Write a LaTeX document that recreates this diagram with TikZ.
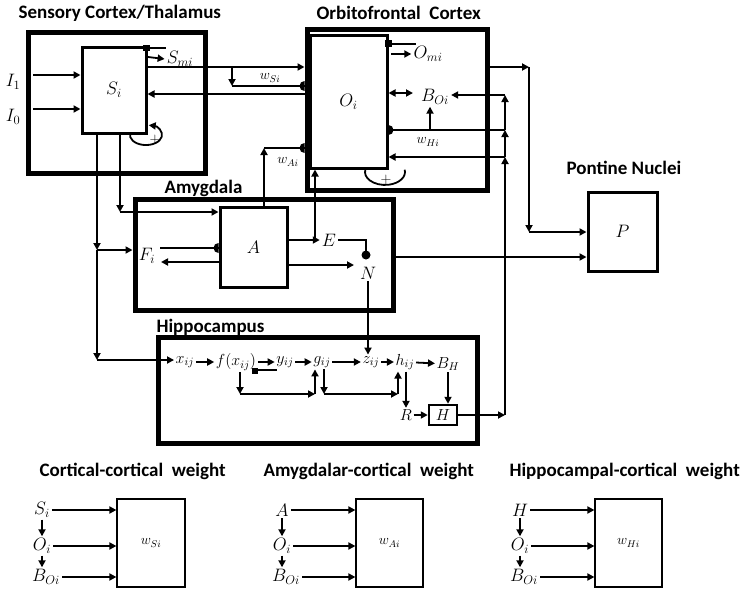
\RequirePackage{fix-cm}
\documentclass[tikz,border=0pt]{standalone}
\usepackage{amsmath, amssymb}
\usepackage{fontspec}
\setsansfont{Carlito}
\usetikzlibrary{arrows.meta}

\newcommand{\synleft}[1]{\fill (#1) ++(0,5) arc[start angle=90, end angle=270, radius=5] -- cycle;}
\newcommand{\synright}[1]{\fill (#1) ++(0,5) arc[start angle=90, end angle=-90, radius=5] -- cycle;}

\begin{document}
\begin{tikzpicture}[x=1pt, y=-1pt,
    region/.style={draw, line width=5pt, inner sep=0pt},
    unit/.style={draw, line width=3pt, fill=white, inner sep=0pt},
    wbox/.style={draw, line width=1.2pt, inner sep=0pt},
    title/.style={anchor=west, font=\sffamily\bfseries\fontsize{19}{21}\selectfont},
    lab/.style={font=\fontsize{18}{20}\selectfont, inner sep=2pt},
    hlab/.style={font=\fontsize{16}{18}\selectfont, inner sep=1.5pt},
    wlab/.style={font=\fontsize{14}{16}\selectfont, inner sep=1pt},
    wire/.style={line width=1.8pt},
    arr/.style={wire, -{Triangle[length=7pt, width=7pt]}},
    darr/.style={wire, {Triangle[length=7pt, width=7pt]}-{Triangle[length=7pt, width=7pt]}}]
\useasboundingbox (0,0) rectangle (742,589);

% region titles
\node[title] at (15,13) {Sensory Cortex/Thalamus};
\node[title] at (313,13) {Orbitofrontal\ \ Cortex};
\node[title] at (563,168) {Pontine Nuclei};
\node[title] at (161,188) {Amygdala};
\node[title] at (153,327) {Hippocampus};

% regions and units
\node[region, minimum width=177pt, minimum height=141pt] (stc) at (116.5,102.5) {};
\node[region, minimum width=180pt, minimum height=161pt] (ofc) at (397,109.5) {};
\node[region, minimum width=258pt, minimum height=111pt] (amy) at (264,254.5) {};
\node[region, minimum width=319pt, minimum height=106pt] (hip) at (317.5,390) {};
\node[unit, minimum width=64pt, minimum height=86pt, lab] (Si) at (114,90) {$S_i$};
\node[unit, minimum width=77pt, minimum height=133pt, lab] (Oi) at (348.5,101.5) {$O_i$};
\node[unit, minimum width=67pt, minimum height=80pt, lab] (A) at (253.5,247) {$A$};
\node[unit, minimum width=69pt, minimum height=79pt, lab] (P) at (622.5,231.5) {$P$};

% sensory cortex
\node[lab] (I1) at (13,82) {$I_1$};
\node[lab] (I0) at (13,117) {$I_0$};
\coordinate (i1) at (33,75);
\coordinate (i0) at (33,109);
\draw[arr] (i1) -- (i1 -| Si.west);
\draw[arr] (i0) -- (i0 -| Si.west);
\node[lab] (Smi) at (180,59) {$S_{mi}$};
\fill (143,45) rectangle (150,51);
\draw[wire] (146,48) -- (166,48);
\draw[arr] (148,57) -- (Smi.west);
\coordinate (sl) at (130.2,133.3);
\draw[arr] (sl) arc[start angle=190, end angle=-80, x radius=16, y radius=10];
\node[font=\fontsize{15}{15}\selectfont, inner sep=0pt] (plS) at (155,140) {+};

% sensory to orbitofrontal
\coordinate (so) at (200,67);
\coordinate (wsj) at (232,67);
\coordinate (wsd) at (232,86);
\coordinate (fb) at (200,94);
\draw[arr] (so -| Si.east) -- (so -| ofc.west);
\draw[arr] (wsj) -- (wsd);
\draw[wire] (wsd) -- (wsd -| ofc.west);
\synleft{wsd -| ofc.west}
\node[wlab] (wSi) at (270,78) {$w_{Si}$};
\draw[arr] (fb -| ofc.west) -- (fb -| Si.east);

% orbitofrontal cortex
\node[lab] (Omi) at (428,54) {$O_{mi}$};
\fill (385,40) rectangle (392,47);
\draw[wire] (388,44) -- (416,44);
\draw[arr] (391,54) -- (Omi.west);
\node[lab] (BOi) at (435,97) {$B_{Oi}$};
\coordinate (bo) at (413,93);
\draw[darr] (bo -| Oi.east) -- (bo);
\coordinate (wh) at (505,130);
\coordinate (wb) at (430,130);
\coordinate (ho) at (505,157);
\coordinate (hb) at (505,95);
\draw[wire] (wh) -- (wh -| Oi.east);
\synright{wh -| Oi.east}
\draw[arr] (wb) -- (wb |- BOi.south);
\node[wlab] (wHi) at (428,142) {$w_{Hi}$};
\draw[arr] (ho) -- (ho -| Oi.east);
\draw[arr] (hb) -- (hb -| BOi.east);
\draw[wire] (404.7,169.7) arc[start angle=-10, end angle=190, x radius=20, y radius=13];
\node[font=\fontsize{15}{15}\selectfont, inner sep=0pt] (plO) at (386,180) {+};

% orbitofrontal to pontine nuclei
\coordinate (op) at (529,67);
\coordinate (pp) at (529,232);
\draw[arr] (op -| ofc.east) -- (op);
\draw[arr] (op) -- (pp);
\draw[arr] (pp) -- (pp -| P.west);

% sensory to amygdala and hippocampus
\coordinate (sa) at (120,212);
\coordinate (sf) at (97,250);
\coordinate (sh) at (97,360);
\draw[arr] (Si.south -| sa) -- (sa);
\draw[arr] (sa) -- (sa -| A.west);
\draw[arr] (Si.south -| sf) -- (sf);
\draw[arr] (sf) -- (sf -| amy.west);
\draw[arr] (sf) -- (sh);

% amygdala
\node[lab] (Fi) at (147,256) {$F_i$};
\coordinate (fin) at (160,248);
\coordinate (fout) at (161,262);
\draw[wire] (fin) -- (fin -| A.west);
\synleft{fin -| A.west}
\draw[arr] (fout -| A.west) -- (fout);
\coordinate (wa) at (264,148);
\draw[arr] (A.north -| wa) -- (wa);
\draw[wire] (wa) -- (wa -| ofc.west);
\synleft{wa -| ofc.west}
\node[wlab] (wAi) at (288,162) {$w_{Ai}$};
\node[lab] (E) at (329,240) {$E$};
\coordinate (ae) at (315,240);
\draw[arr] (A.east |- E) -- (E.west);
\draw[arr] (ae) -- (ae |- Oi.south);
\coordinate (nd) at (366,255);
\draw[wire] (E.east) -| (nd);
\fill (nd) circle (4.5);
\node[lab] (N) at (368,273) {$N$};
\coordinate (an) at (354,265);
\draw[arr] (an -| A.east) -- (an);
\coordinate (ap) at (400,257);
\draw[arr] (ap -| amy.east) -- (ap -| P.west);

% hippocampus
\node[hlab] (x) at (185,362) {$x_{ij}$};
\node[hlab] (f) at (236,362) {$f(x_{ij})$};
\node[hlab] (y) at (285,362) {$y_{ij}$};
\node[hlab] (g) at (322,362) {$g_{ij}$};
\node[hlab] (z) at (371,362) {$z_{ij}$};
\node[hlab] (h) at (405,362) {$h_{ij}$};
\node[hlab] (BH) at (448,364) {$B_H$};
\node[hlab] (R) at (406,415) {$R$};
\node[draw, line width=2.5pt, minimum width=28pt, minimum height=20pt, inner sep=0pt, hlab] (Hb) at (443,415) {$H$};
\draw[arr] (sh) -- (sh -| x.west);
\draw[arr] (N.south) -- (N.south |- z.north);
\draw[arr] (x) -- (f);
\draw[arr] (f) -- (y);
\draw[arr] (y) -- (g);
\draw[arr] (g) -- (z);
\draw[arr] (z) -- (h);
\draw[arr] (h) -- (BH);
\fill (252,368) rectangle (258,374);
\draw[wire] (258,370) -- (277,370);
\coordinate (fd) at (240,394);
\coordinate (gu) at (315,394);
\coordinate (gd) at (324,394);
\coordinate (hu) at (398,394);
\draw[arr] (f.south -| fd) -- (fd);
\draw[arr] (fd) -- (gu);
\draw[arr] (gu) -- (gu |- g.south);
\draw[arr] (g.south -| gd) -- (gd);
\draw[arr] (gd) -- (hu);
\draw[arr] (hu) -- (hu |- h.south);
\draw[arr] (h.south -| R) -- (R.north);
\draw[arr] (R) -- (Hb);
\draw[arr] (BH.south) -- (BH.south |- Hb.north);

% hippocampus back to orbitofrontal
\coordinate (hv) at (505,415);
\draw[arr] (Hb) -- (hv);
\draw[arr] (hv) -- (ho);
\draw[arr] (ho) -- (wh);
\draw[arr] (wh) -- (hb);

% weights
\node[title] at (36,471) {Cortical-cortical\ \ weight};
\node[wbox, minimum width=68pt, minimum height=88pt, wlab] (wS) at (151,543) {$w_{Si}$};
\node[lab] (cS) at (42,510) {$S_i$};
\node[lab] (cO) at (42,546) {$O_i$};
\node[lab] (cB) at (46,577) {$B_{Oi}$};
\draw[arr] (cS.east) -- (cS -| wS.west);
\draw[arr] (cO.east) -- (cO -| wS.west);
\draw[arr] (cB.east) -- (cB -| wS.west);
\draw[arr] (cS.south) -- (cO.north);
\draw[arr] (cO.south) -- (cO.south |- cB.north);

\node[title] at (260,471) {Amygdalar-cortical\ \ weight};
\node[wbox, minimum width=67pt, minimum height=88pt, wlab] (wA) at (389.5,543) {$w_{Ai}$};
\node[lab] (aA) at (282,510) {$A$};
\node[lab] (aO) at (282,546) {$O_i$};
\node[lab] (aB) at (286,577) {$B_{Oi}$};
\draw[arr] (aA.east) -- (aA -| wA.west);
\draw[arr] (aO.east) -- (aO -| wA.west);
\draw[arr] (aB.east) -- (aB -| wA.west);
\draw[arr] (aA.south) -- (aO.north);
\draw[arr] (aO.south) -- (aO.south |- aB.north);

\node[title] at (506,471) {Hippocampal-cortical\ \ weight};
\node[wbox, minimum width=67pt, minimum height=88pt, wlab] (wH) at (628.5,543) {$w_{Hi}$};
\node[lab] (hH) at (520,510) {$H$};
\node[lab] (hO) at (520,546) {$O_i$};
\node[lab] (hB) at (524,577) {$B_{Oi}$};
\draw[arr] (hH.east) -- (hH -| wH.west);
\draw[arr] (hO.east) -- (hO -| wH.west);
\draw[arr] (hB.east) -- (hB -| wH.west);
\draw[arr] (hH.south) -- (hO.north);
\draw[arr] (hO.south) -- (hO.south |- hB.north);
\end{tikzpicture}
\end{document}
